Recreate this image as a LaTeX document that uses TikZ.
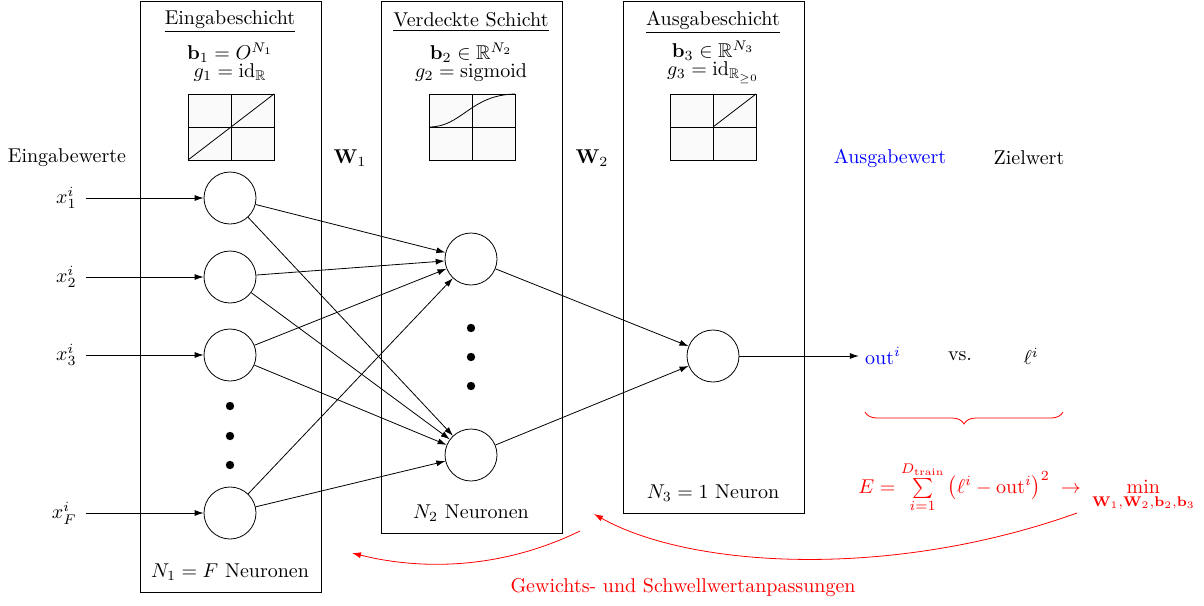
\documentclass[tikz,border=0pt]{standalone}
\usepackage{amsmath,amssymb}
\usetikzlibrary{arrows.meta,decorations.pathreplacing}
\begin{document}
\begin{tikzpicture}[x=0.5pt,y=-0.5pt,
  layer/.style={draw,inner sep=0pt,minimum width=90.5pt},
  neuron/.style={draw,circle,minimum size=26pt,inner sep=0pt},
  dotn/.style={fill,circle,inner sep=0pt,minimum size=4.2pt},
  conn/.style={-{Latex[length=4.5pt,width=3pt]}},
  redconn/.style={red,-{Latex[length=4.5pt,width=3pt]}},
  plotbg/.style={draw,fill=gray!4},
  lbl/.style={inner sep=4.5pt}
]
\useasboundingbox (0,0) rectangle (1204,605);
% layer boxes
\node[layer,minimum height=295.5pt] (L1) at (230.5,296.5) {};
\node[layer,minimum height=266pt] (L2) at (471.5,267) {};
\node[layer,minimum height=256pt] (L3) at (713.5,257) {};
% titles
\node (t1) at (230,22) {\underline{Eingabeschicht}};
\node (t2) at (471,22) {\underline{Verdeckte Schicht}};
\node (t3) at (713,22) {\underline{Ausgabeschicht}};
\node[align=center] (m1) at (230,62) {$\mathbf{b}_1 = O^{N_1}$\\[-3pt]$g_1 = \mathrm{id}_{\mathbb{R}}$};
\node[align=center] (m2) at (471,62) {$\mathbf{b}_2 \in \mathbb{R}^{N_2}$\\[-3pt]$g_2 = \mathrm{sigmoid}$};
\node[align=center] (m3) at (713,62) {$\mathbf{b}_3 \in \mathbb{R}^{N_3}$\\[-3pt]$g_3 = \mathrm{id}_{\mathbb{R}_{\geq 0}}$};
% activation plots
\draw[plotbg] (188,94) rectangle (274,160);
\draw (231,94) -- (231,160) (188,127) -- (274,127);
\draw (188,160) -- (274,94);
\draw[plotbg] (429,94) rectangle (515,160);
\draw (472,94) -- (472,160) (429,127) -- (515,127);
\draw (429,127) .. controls (462,127) and (470,95) .. (515,94);
\draw[plotbg] (670,94) rectangle (756,160);
\draw (713,94) -- (713,160) (670,127) -- (756,127);
\draw (713,127) -- (756,94);
% column labels
\node (ein) at (67,158) {Eingabewerte};
\node (w1) at (350,158) {$\mathbf{W}_1$};
\node (w2) at (592,158) {$\mathbf{W}_2$};
\node[blue] (aus) at (890,158) {Ausgabewert};
\node (ziel) at (1029,158) {Zielwert};
% neurons
\node[neuron] (i1) at (230,198) {};
\node[neuron] (i2) at (230,277) {};
\node[neuron] (i3) at (230,355) {};
\node[neuron] (iF) at (230,513) {};
\node[dotn] (d1) at (230,406) {};
\node[dotn] (d2) at (230,436) {};
\node[dotn] (d3) at (230,465) {};
\node[neuron] (h1) at (471,259) {};
\node[neuron] (h2) at (471,455) {};
\node[dotn] (e1) at (471,328) {};
\node[dotn] (e2) at (471,357) {};
\node[dotn] (e3) at (471,386) {};
\node[neuron] (o) at (713,356) {};
% inputs
\node[lbl,anchor=east] (x1) at (86,198) {$x_1^i$};
\node[lbl,anchor=east] (x2) at (86,277) {$x_2^i$};
\node[lbl,anchor=east] (x3) at (86,355) {$x_3^i$};
\node[lbl,anchor=east] (xF) at (86,513) {$x_F^i$};
\foreach \a/\b in {x1/i1,x2/i2,x3/i3,xF/iF} \draw[conn] (\a) -- (\b);
\foreach \a in {i1,i2,i3,iF} {\draw[conn] (\a) -- (h1); \draw[conn] (\a) -- (h2);}
\draw[conn] (h1) -- (o);
\draw[conn] (h2) -- (o);
% output
\node[blue,inner sep=3pt] (out) at (883,356) {$\mathrm{out}^i$};
\node (vs) at (960,356) {vs.};
\node (ell) at (1031,356) {$\ell^i$};
\draw[conn] (o) -- (out);
% neuron counts
\node (n1) at (230,572) {$N_1 = F$ Neuronen};
\node (n2) at (471,513) {$N_2$ Neuronen};
\node (n3) at (713,493) {$N_3 = 1$ Neuron};
% brace and error
\coordinate (bl) at (865,412);
\coordinate (br) at (1063,412);
\draw[red,decorate,decoration={brace,mirror,amplitude=6pt}] (bl) -- (br);
\node[red,anchor=base west,inner sep=0pt] (E) at (858,493) {$E = \sum\limits_{i=1}^{D_{\text{train}}} \big(\ell^i - \mathrm{out}^i\big)^2 \;\rightarrow\; \min\limits_{\mathbf{W}_1,\mathbf{W}_2,\mathbf{b}_2,\mathbf{b}_3}$};
% feedback arrows
\coordinate (a1s) at (580,531);
\coordinate (a1e) at (352,553);
\coordinate (a2s) at (1077,513);
\coordinate (a2e) at (594,514);
\draw[redconn] (a1s) .. controls (500,570) and (420,570) .. (a1e);
\draw[redconn] (a2s) .. controls (890,580) and (690,568) .. (a2e);
\node[red] (gw) at (683,588) {Gewichts- und Schwellwertanpassungen};
\end{tikzpicture}
\end{document}
